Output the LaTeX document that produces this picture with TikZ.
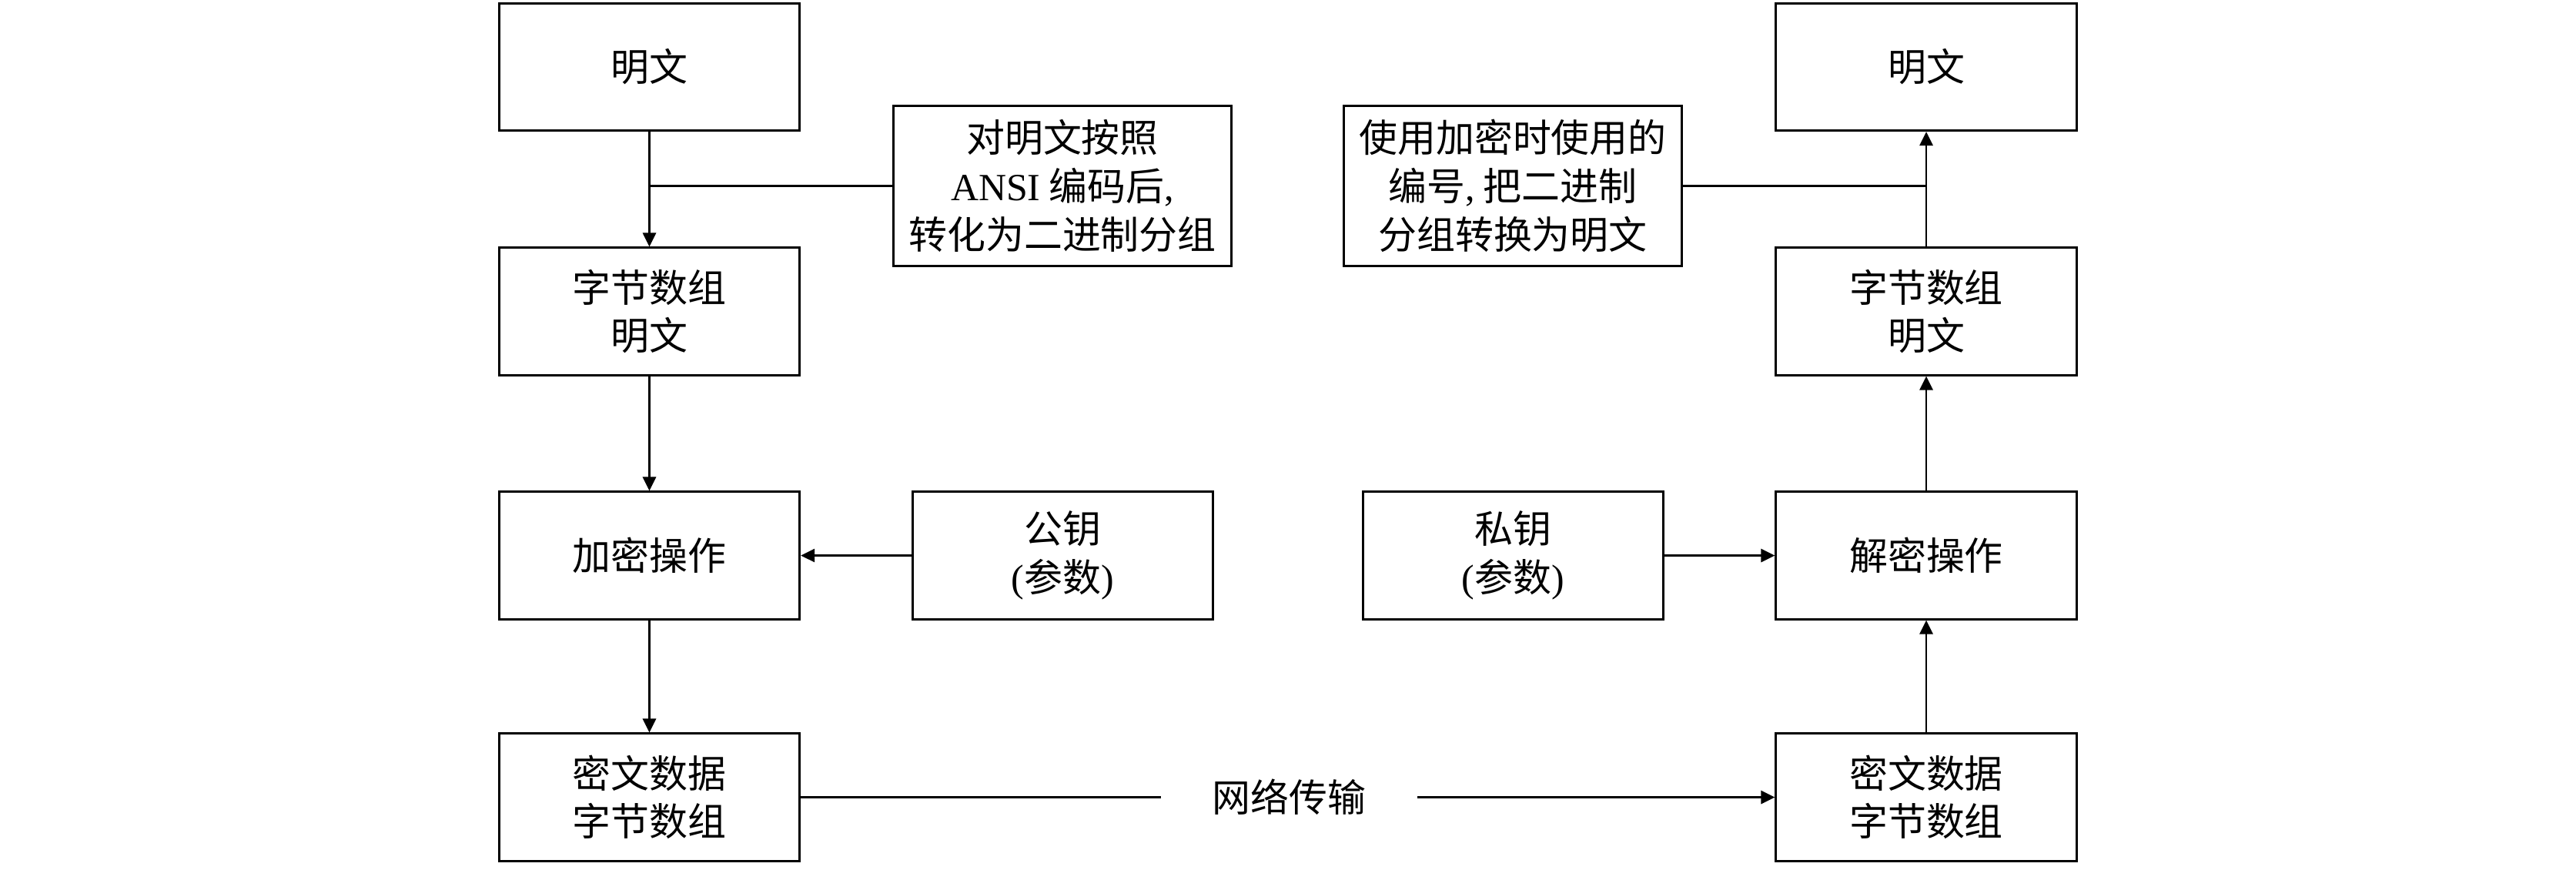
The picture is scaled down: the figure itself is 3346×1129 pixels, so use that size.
\documentclass[tikz,border=0pt]{standalone}
\usepackage{fontspec}
\setmainfont{Liberation Serif}
\newfontfamily\cjk{Noto Sans CJK SC}
\usetikzlibrary{arrows.meta}
\newcommand{\lat}[1]{{\rmfamily #1}}
\begin{document}
\begin{tikzpicture}[x=0.01cm,y=-0.01cm,
  txt/.style={font=\cjk\fontsize{14.2}{17.8}\selectfont,align=center},
  box/.style={txt,draw,line width=0.85pt,minimum width=3.9cm,minimum height=1.65cm,inner sep=0pt},
  note/.style={box,minimum width=4.38cm,minimum height=2.07cm},
  conn/.style={line width=0.8pt},
  arr/.style={conn,-{Triangle[length=0.18cm,width=0.17cm]}}]
\useasboundingbox (0,0) rectangle (3346,1129);
% left column
\node[box] (p1) at (843.5,87) {明文};
\node[box] (b1) at (843.5,404.5) {字节数组\\明文};
\node[box] (e1) at (843.5,721.5) {加密操作};
\node[box] (c1) at (843.5,1035.5) {密文数据\\字节数组};
\node[note] (n1) at (1380,241.5) {对明文按照\\\lat{ANSI} 编码后\lat{,}\\转化为二进制分组};
\node[box] (k1) at (1380.5,721.5) {公钥\\\lat{(}参数\lat{)}};
% right column
\node[box] (p2) at (2502,87) {明文};
\node[box] (b2) at (2502,404.5) {字节数组\\明文};
\node[box] (d2) at (2502,721.5) {解密操作};
\node[box] (c2) at (2502,1035.5) {密文数据\\字节数组};
\node[note] (n2) at (1965,241.5) {使用加密时使用的\\编号\lat{,} 把二进制\\分组转换为明文};
\node[box] (k2) at (1965.5,721.5) {私钥\\\lat{(}参数\lat{)}};
% network label
\node[txt,inner xsep=0.66cm] (net) at (1674.5,1035.5) {网络传输};
% connectors
\draw[arr] (p1) -- (b1);
\draw[conn] (n1.west) -- (n1.west -| p1);
\draw[arr] (b1) -- (e1);
\draw[arr] (k1) -- (e1);
\draw[arr] (e1) -- (c1);
\draw[conn] (c1) -- (net);
\draw[arr] (net) -- (c2);
\draw[arr] (c2) -- (d2);
\draw[arr] (k2) -- (d2);
\draw[arr] (d2) -- (b2);
\draw[arr] (b2) -- (p2);
\draw[conn] (n2.east) -- (n2.east -| p2);
\end{tikzpicture}
\end{document}
